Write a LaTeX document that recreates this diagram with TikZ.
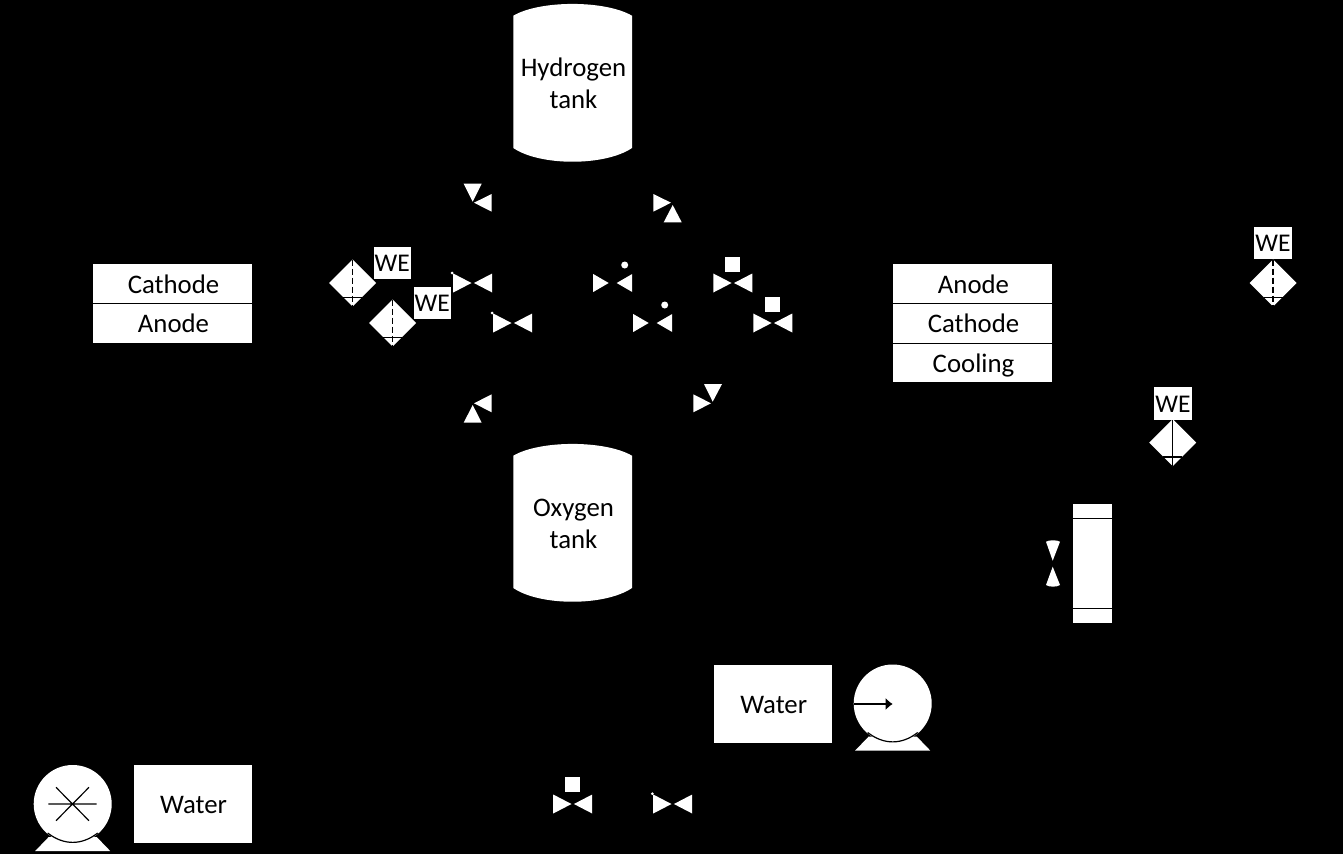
\documentclass[tikz,border=0pt]{standalone}
\usepackage{fontspec}
\setmainfont{Carlito}
\usetikzlibrary{arrows.meta}
\tikzset{
  x=1pt,y=-1pt,
  boxed/.style={rectangle,fill=white,draw=black,line width=.8pt,inner sep=0pt,align=center,text=black,text height=20pt,text depth=.8pt,font=\fontsize{26.8}{32}\selectfont},
  welabel/.style={rectangle,fill=white,inner sep=0pt,text=black,text height=18pt,text depth=.6pt,font=\fontsize{25.5}{30}\selectfont},
  tanktext/.style={inner sep=0pt,align=center,text=black,font=\fontsize{26.8}{32}\selectfont},
  blackline/.style={draw=black,line width=1.2pt},
  pics/bowtie/.style={code={
    \fill[white] (-19.5,-9.5) -- (-19.5,9.5) -- (-1.2,0) -- cycle;
    \fill[white] (19.5,-9.5) -- (19.5,9.5) -- (1.2,0) -- cycle;
  }},
  pics/bowtiegap/.style={code={
    \fill[white] (-19.5,-9) -- (-19.5,9) -- (-4,0) -- cycle;
    \fill[white] (19.5,-9) -- (19.5,9) -- (4,0) -- cycle;
  }},
  pics/sensor/.style={code={
    \fill[white] (-23.5,0) -- (0,-23.5) -- (23.5,0) -- (0,23.5) -- cycle;
    \draw[blackline] (-9.5,14.3) -- (9.5,14.3);
    \draw[blackline,#1] (0,-23.5) -- (0,23.5);
  }},
  pics/pumpbody/.style={code={
    \fill[white] (-37.5,47) -- (37.5,47) -- (24,33) -- (-24,33) -- cycle;
    \fill[white] (0,0) circle (39);
    \draw[blackline] (-25,29) .. controls (-9,41.5) and (9,41.5) .. (25,29);
  }},
}
\begin{document}
\begin{tikzpicture}
\useasboundingbox (0,0) rectangle (1343,854);
\fill[black] (0,0) rectangle (1343,854);

% tanks
\fill[white] (513.3,15.7) .. controls (540,0) and (605,0) .. (632,15.7) -- (632,148) .. controls (605,166.3) and (540,166.3) .. (513.3,148) -- cycle;
\node[tanktext] (htank) at (573.5,83.5) {Hydrogen\\tank};
\fill[white] (513.3,455.7) .. controls (540,440) and (605,440) .. (632,455.7) -- (632,588) .. controls (605,606.3) and (540,606.3) .. (513.3,588) -- cycle;
\node[tanktext] (otank) at (573.5,524) {Oxygen\\tank};

% stacks
\node[boxed,minimum width=159.8pt,minimum height=39.8pt] (cathL) at (172.5,283.5) {\kern2pt Cathode};
\node[boxed,minimum width=159.8pt,minimum height=39.8pt] (anodeL) at (172.5,323) {\kern2pt Anode};
\node[boxed,minimum width=159.8pt,minimum height=39.8pt] (anodeR) at (972.5,283.5) {\kern2pt Anode};
\node[boxed,minimum width=159.8pt,minimum height=39.8pt] (cathR) at (972.5,323) {\kern2pt Cathode};
\node[boxed,minimum width=159.8pt,minimum height=39.8pt] (coolR) at (972.5,362.8) {\kern2pt Cooling};

% water tanks
\node[boxed,minimum width=119pt,minimum height=79pt] (water1) at (192.5,803.7) {\kern2pt Water};
\node[boxed,minimum width=119pt,minimum height=79pt] (water2) at (772.7,703.5) {\kern2pt Water};

% pumps
\pic at (72.7,804) {pumpbody};
\draw[blackline] (48.3,804) -- (96.7,804) (56,787.3) -- (89,820.7) (89,787.3) -- (56,820.7);
\pic at (892.7,703.5) {pumpbody};
\draw[blackline,-{Latex[length=7pt,width=12pt]}] (854,704) -- (892.7,704);

% plain valves with a corner dot
\pic at (472.7,283) {bowtie};
\fill[white] (452,273) circle (1.5);
\pic at (512.7,323) {bowtie};
\fill[white] (492,313) circle (1.5);
\pic at (672.7,804) {bowtie};
\fill[white] (652.3,793.7) circle (1.5);

% valves with a round head
\pic at (612.7,283) {bowtiegap};
\fill[white] (624.7,265) circle (3.5);
\pic at (652.7,323) {bowtiegap};
\fill[white] (664.7,305) circle (3.5);

% valves with a square head
\pic at (732.8,283) {bowtie};
\fill[white] (725.3,256.7) rectangle (740.3,271.5);
\pic at (772.8,323) {bowtie};
\fill[white] (765.3,296.7) rectangle (780.3,311.5);
\pic at (572.7,804) {bowtie};
\fill[white] (565.3,777.3) rectangle (580,792);

% angle valves
\fill[white] (463.7,183.7) -- (481.7,183.7) -- (472.7,201.7) -- cycle;
\fill[white] (491.7,194) -- (491.7,211.7) -- (474,202.7) -- cycle;
\fill[white] (491.7,394.3) -- (491.7,412.3) -- (474,403.3) -- cycle;
\fill[white] (463.7,422.7) -- (481.7,422.7) -- (472.7,405) -- cycle;
\fill[white] (653.3,194) -- (653.3,211.7) -- (671,202.7) -- cycle;
\fill[white] (663.7,222.3) -- (681.7,222.3) -- (672.7,205) -- cycle;
\fill[white] (704,384) -- (722,384) -- (712.7,401.7) -- cycle;
\fill[white] (693.3,394.3) -- (693.3,412.3) -- (711,403.3) -- cycle;

% sensors
\pic at (352.7,283) {sensor={dash pattern=on 6pt off 3pt}};
\node[welabel,minimum width=36.7pt,minimum height=31.4pt] (we1) at (392.3,263) {WE};
\pic at (392.7,323) {sensor={dash pattern=on 6pt off 3pt}};
\node[welabel,minimum width=36.7pt,minimum height=31.4pt] (we2) at (432.3,303) {WE};
\pic at (1273,283) {sensor={dash pattern=on 6pt off 3pt}};
\node[welabel,minimum width=38pt,minimum height=32pt] (we3) at (1273,243) {WE};
\pic at (1172.7,442.7) {sensor={solid}};
\node[welabel,minimum width=38pt,minimum height=33pt] (we4) at (1173,403.5) {WE};

% heat exchanger
\node[rectangle,fill=white,draw=black,line width=.8pt,minimum width=39.8pt,minimum height=119.5pt,inner sep=0pt] (hx) at (1092.7,563.3) {};
\draw[blackline] (hx.west |- 0,518.3) -- (hx.east |- 0,518.3);
\draw[blackline] (hx.west |- 0,608.3) -- (hx.east |- 0,608.3);

% throttle beside exchanger
\fill[white] (1046,541.7) .. controls (1049,539.8) and (1057,539.8) .. (1060,541.7) -- (1052.7,560.7) -- cycle;
\fill[white] (1046,585) .. controls (1049,587.2) and (1057,587.2) .. (1060,585) -- (1052.7,566.7) -- cycle;
\end{tikzpicture}
\end{document}
